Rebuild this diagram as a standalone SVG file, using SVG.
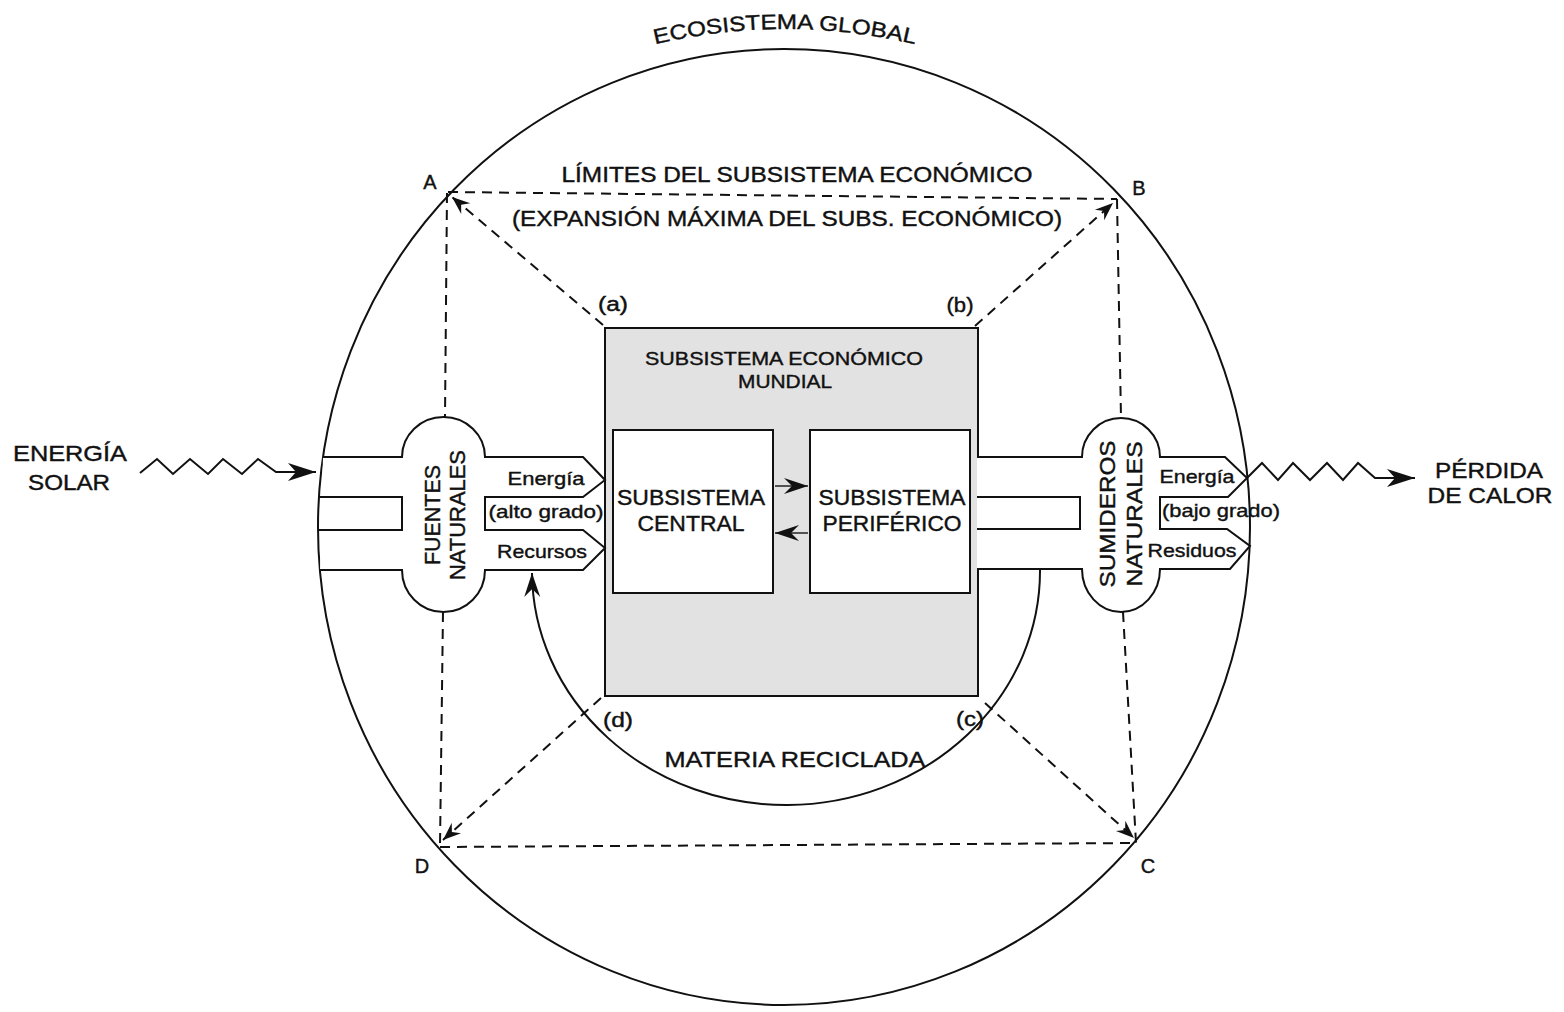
<svg xmlns="http://www.w3.org/2000/svg" width="1564" height="1012" viewBox="0 0 1564 1012">
<style>
  text { font-family: "Liberation Sans", Arial, Helvetica, sans-serif; fill: #111; stroke: #111; stroke-width: 0.4; }
  .cap { font-size: 22px; }
  .mid { font-size: 21px; }
  .sm { font-size: 19px; }
  .lab { font-size: 20px; }
  .ln { fill: none; stroke: #111; stroke-width: 2; stroke-linejoin: miter; }
  .shape { fill: #fff; stroke: #111; stroke-width: 2; stroke-linejoin: miter; }
  .dash { fill: none; stroke: #111; stroke-width: 2; stroke-dasharray: 10 7; }
  .thin { fill: none; stroke: #222; stroke-width: 1.3; }
</style>
<defs>
  <marker id="barb" markerUnits="userSpaceOnUse" viewBox="-20 -10 22 20" refX="0" refY="0" markerWidth="22" markerHeight="20" orient="auto">
    <path d="M0,0 L-18,-7 L-12,0 L-18,7 Z" fill="#111"/>
  </marker>
  <marker id="barbL" markerUnits="userSpaceOnUse" viewBox="-30 -12 32 24" refX="0" refY="0" markerWidth="32" markerHeight="24" orient="auto">
    <path d="M0,0 L-28,-9 L-20,0 L-28,9 Z" fill="#111"/>
  </marker>
  <marker id="barbM" markerUnits="userSpaceOnUse" viewBox="-26 -11 28 22" refX="0" refY="0" markerWidth="28" markerHeight="22" orient="auto">
    <path d="M0,0 L-24,-8 L-16,0 L-24,8 Z" fill="#111"/>
  </marker>
  <path id="ecoArc" d="M600,60.6 A558,558 0 0 1 970,60.6"/>
</defs>

<rect x="0" y="0" width="1564" height="1012" fill="#fff"/>

<g id="ecosistema-global">
  <ellipse cx="784" cy="527" rx="466" ry="478" class="ln"/>
  <text class="mid"><textPath href="#ecoArc" startOffset="50%" text-anchor="middle" textLength="262" lengthAdjust="spacingAndGlyphs">ECOSISTEMA GLOBAL</textPath></text>
</g>

<g id="subsistema-economico">
  <rect x="605" y="328" width="373" height="368" fill="#e2e2e2" stroke="#111" stroke-width="2"/>
  <text class="sm" x="784" y="365" text-anchor="middle" textLength="278" lengthAdjust="spacingAndGlyphs">SUBSISTEMA ECONÓMICO</text>
  <text class="sm" x="785" y="388" text-anchor="middle" textLength="94" lengthAdjust="spacingAndGlyphs">MUNDIAL</text>
</g>

<g id="subsistema-central">
  <rect x="613" y="430" width="160" height="163" class="shape"/>
  <text class="cap" x="691" y="505" text-anchor="middle" textLength="148" lengthAdjust="spacingAndGlyphs">SUBSISTEMA</text>
  <text class="cap" x="691" y="531" text-anchor="middle" textLength="107" lengthAdjust="spacingAndGlyphs">CENTRAL</text>
</g>

<g id="subsistema-periferico">
  <rect x="810" y="430" width="160" height="163" class="shape"/>
  <text class="cap" x="892" y="505" text-anchor="middle" textLength="147" lengthAdjust="spacingAndGlyphs">SUBSISTEMA</text>
  <text class="cap" x="892" y="531" text-anchor="middle" textLength="139" lengthAdjust="spacingAndGlyphs">PERIFÉRICO</text>
</g>

<g id="fuentes-naturales">
  <path class="shape" d="M323,457 L402,457 A41.5,40 0 0 1 485,457 L583,457 L605,480 L583,497 L485,497 L485,530 L583,530 L605,548 L583,570 L485,570 A41.5,42 0 0 1 402,570 L320,570"/>
  <path class="ln" d="M319,497 L402,497 L402,530 L318,530"/>
  <text class="cap" transform="translate(440,515) rotate(-90)" text-anchor="middle" textLength="100" lengthAdjust="spacingAndGlyphs">FUENTES</text>
  <text class="cap" transform="translate(465,515) rotate(-90)" text-anchor="middle" textLength="130" lengthAdjust="spacingAndGlyphs">NATURALES</text>
  <text class="sm" x="546" y="485" text-anchor="middle" textLength="77" lengthAdjust="spacingAndGlyphs">Energía</text>
  <text class="sm" x="546" y="518" text-anchor="middle" textLength="115" lengthAdjust="spacingAndGlyphs">(alto grado)</text>
  <text class="sm" x="542" y="558" text-anchor="middle" textLength="90" lengthAdjust="spacingAndGlyphs">Recursos</text>
</g>

<g id="sumideros-naturales">
  <path class="shape" d="M977,457 L1082,457 A39,39 0 0 1 1160,457 L1225,457 L1247,478 L1228,497 L1160,497 L1160,529 L1227,529 L1250,546 L1230,569 L1160,569 A39,43 0 0 1 1082,569 L977,569"/>
  <path class="ln" d="M977,497 L1080,497 L1080,529 L977,529"/>
  <text class="cap" transform="translate(1115,514) rotate(-90)" text-anchor="middle" textLength="147" lengthAdjust="spacingAndGlyphs">SUMIDEROS</text>
  <text class="cap" transform="translate(1142,514) rotate(-90)" text-anchor="middle" textLength="145" lengthAdjust="spacingAndGlyphs">NATURALES</text>
  <text class="sm" x="1197" y="483" text-anchor="middle" textLength="75" lengthAdjust="spacingAndGlyphs">Energía</text>
  <text class="sm" x="1221" y="517" text-anchor="middle" textLength="118" lengthAdjust="spacingAndGlyphs">(bajo grado)</text>
  <text class="sm" x="1192" y="557" text-anchor="middle" textLength="89" lengthAdjust="spacingAndGlyphs">Residuos</text>
</g>

<g id="energia-solar">
  <text class="cap" x="70" y="461" text-anchor="middle" textLength="114" lengthAdjust="spacingAndGlyphs">ENERGÍA</text>
  <text class="cap" x="69" y="490" text-anchor="middle" textLength="82" lengthAdjust="spacingAndGlyphs">SOLAR</text>
</g>

<g id="perdida-calor">
  <text class="cap" x="1489" y="478" text-anchor="middle" textLength="108" lengthAdjust="spacingAndGlyphs">PÉRDIDA</text>
  <text class="cap" x="1490" y="503" text-anchor="middle" textLength="125" lengthAdjust="spacingAndGlyphs">DE CALOR</text>
</g>

<g id="limites">
  <text class="cap" x="797" y="182" text-anchor="middle" textLength="471" lengthAdjust="spacingAndGlyphs">LÍMITES DEL SUBSISTEMA ECONÓMICO</text>
  <text class="cap" x="787" y="226" text-anchor="middle" textLength="550" lengthAdjust="spacingAndGlyphs">(EXPANSIÓN MÁXIMA DEL SUBS. ECONÓMICO)</text>
  <text class="lab" x="430" y="189" text-anchor="middle">A</text>
  <text class="lab" x="1139" y="195" text-anchor="middle">B</text>
  <text class="lab" x="1148" y="873" text-anchor="middle">C</text>
  <text class="lab" x="422" y="873" text-anchor="middle">D</text>
  <text class="lab" x="613" y="311" text-anchor="middle" textLength="30" lengthAdjust="spacingAndGlyphs">(a)</text>
  <text class="lab" x="960" y="312" text-anchor="middle" textLength="27" lengthAdjust="spacingAndGlyphs">(b)</text>
  <text class="lab" x="970" y="726" text-anchor="middle" textLength="28" lengthAdjust="spacingAndGlyphs">(c)</text>
  <text class="lab" x="618" y="727" text-anchor="middle" textLength="30" lengthAdjust="spacingAndGlyphs">(d)</text>
</g>

<g id="materia-reciclada">
  <text class="cap" x="795" y="767" text-anchor="middle" textLength="261" lengthAdjust="spacingAndGlyphs">MATERIA RECICLADA</text>
</g>

<g id="connectors">
  <path class="dash" d="M448,192 L1117,199"/>
  <path class="dash" d="M440,847 L1136,843"/>
  <path class="dash" d="M447,193 L445,417"/>
  <path class="dash" d="M443,612 L440,846"/>
  <path class="dash" d="M1117,199 L1121,418"/>
  <path class="dash" d="M1123,612 L1136,843"/>
  <path class="dash" d="M603,325 L452,197" marker-end="url(#barb)"/>
  <path class="dash" d="M975,326 L1113,203" marker-end="url(#barb)"/>
  <path class="dash" d="M601,698 L443,840" marker-end="url(#barb)"/>
  <path class="dash" d="M985,703 L1134,838" marker-end="url(#barb)"/>
  <path class="ln" d="M140,473 L157,459 L173,474 L190,459 L208,474 L223,459 L242,474 L258,459 L276,472 L316,472" marker-end="url(#barbL)"/>
  <path class="ln" d="M1247,478 L1262,463 L1278,480 L1293,463 L1310,480 L1327,463 L1343,480 L1358,463 L1375,478 L1415,478" marker-end="url(#barbL)"/>
  <path class="thin" d="M775,486 L808,486" marker-end="url(#barbM)"/>
  <path class="thin" d="M808,533 L775,533" marker-end="url(#barbM)"/>
  <path class="ln" d="M1040,569 A254,234 0 0 1 532,573" marker-end="url(#barbM)"/>
</g>
</svg>
